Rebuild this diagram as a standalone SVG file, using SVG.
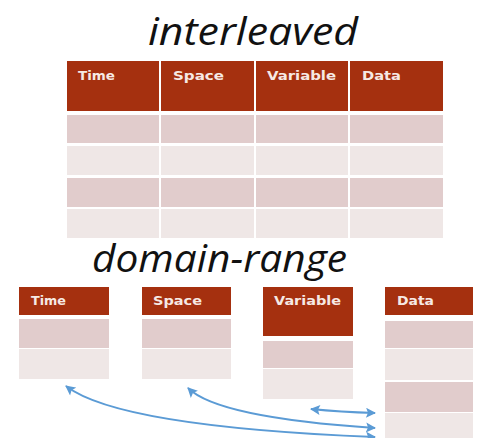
<svg xmlns="http://www.w3.org/2000/svg" width="479" height="438" viewBox="0 0 479 438">
<defs>
<style>
.title{font-family:"Open Sans","Liberation Sans",sans-serif;font-style:italic;font-size:38px;fill:#111}
.hd{fill:#A5300F}
.dk{fill:#E1CCCC}
.lt{fill:#EFE7E6}
.ht{font-family:"DejaVu Sans","Liberation Sans",sans-serif;font-weight:bold;font-size:12.5px;fill:#F6E9E4}
.arr{fill:none;stroke:#5B9BD5;stroke-width:1.8}
</style>
<marker id="ah" viewBox="0 0 10 10" refX="9" refY="5" markerWidth="11" markerHeight="10" markerUnits="userSpaceOnUse" orient="auto-start-reverse">
<path d="M0,0 L10,5 L0,10 L2,5 Z" fill="#5B9BD5"/>
</marker>
</defs>
<rect width="479" height="438" fill="#fff"/>
<text class="title" x="148" y="45" textLength="210" lengthAdjust="spacingAndGlyphs">interleaved</text>
<g id="interleaved-table">
<rect class="hd" x="67" y="61" width="92" height="50"/>
<rect class="hd" x="161" y="61" width="93" height="50"/>
<rect class="hd" x="256" y="61" width="92" height="50"/>
<rect class="hd" x="350" y="61" width="93" height="50"/>
<text class="ht" x="78" y="80" textLength="37" lengthAdjust="spacingAndGlyphs">Time</text>
<text class="ht" x="173" y="80" textLength="51" lengthAdjust="spacingAndGlyphs">Space</text>
<text class="ht" x="267" y="80" textLength="69" lengthAdjust="spacingAndGlyphs">Variable</text>
<text class="ht" x="362" y="80" textLength="39" lengthAdjust="spacingAndGlyphs">Data</text>
<g>
<rect class="dk" x="67" y="115" width="92" height="28"/><rect class="dk" x="161" y="115" width="93" height="28"/><rect class="dk" x="256" y="115" width="92" height="28"/><rect class="dk" x="350" y="115" width="93" height="28"/>
<rect class="lt" x="67" y="146" width="92" height="29"/><rect class="lt" x="161" y="146" width="93" height="29"/><rect class="lt" x="256" y="146" width="92" height="29"/><rect class="lt" x="350" y="146" width="93" height="29"/>
<rect class="dk" x="67" y="178" width="92" height="29"/><rect class="dk" x="161" y="178" width="93" height="29"/><rect class="dk" x="256" y="178" width="92" height="29"/><rect class="dk" x="350" y="178" width="93" height="29"/>
<rect class="lt" x="67" y="209" width="92" height="29"/><rect class="lt" x="161" y="209" width="93" height="29"/><rect class="lt" x="256" y="209" width="92" height="29"/><rect class="lt" x="350" y="209" width="93" height="29"/>
</g>
</g>
<text class="title" x="92" y="272" textLength="255" lengthAdjust="spacingAndGlyphs">domain-range</text>
<g id="time">
<rect class="hd" x="19" y="287" width="90" height="28"/>
<text class="ht" x="31" y="305" textLength="35" lengthAdjust="spacingAndGlyphs">Time</text>
<rect class="dk" x="19" y="319" width="90" height="29"/>
<rect class="lt" x="19" y="349" width="90" height="30"/>
</g>
<g id="space">
<rect class="hd" x="142" y="287" width="89" height="28"/>
<text class="ht" x="153" y="305" textLength="49" lengthAdjust="spacingAndGlyphs">Space</text>
<rect class="dk" x="142" y="319" width="89" height="29"/>
<rect class="lt" x="142" y="349" width="89" height="30"/>
</g>
<g id="variable">
<rect class="hd" x="263" y="287" width="90" height="49"/>
<text class="ht" x="274" y="305" textLength="67" lengthAdjust="spacingAndGlyphs">Variable</text>
<rect class="dk" x="263" y="341" width="90" height="27"/>
<rect class="lt" x="263" y="369" width="90" height="30"/>
</g>
<g id="data">
<rect class="hd" x="385" y="287" width="88" height="28"/>
<text class="ht" x="397" y="305" textLength="37" lengthAdjust="spacingAndGlyphs">Data</text>
<rect class="dk" x="385" y="321" width="88" height="27"/>
<rect class="lt" x="385" y="349" width="88" height="31"/>
<rect class="dk" x="385" y="382" width="88" height="30"/>
<rect class="lt" x="385" y="413" width="88" height="27"/>
</g>
<g id="connectors">
<path class="arr" marker-start="url(#ah)" marker-end="url(#ah)" d="M375 437 C 250 432, 110 420, 66 386"/>
<path class="arr" marker-start="url(#ah)" marker-end="url(#ah)" d="M375 428 C 300 423, 212 412, 188 388"/>
<path class="arr" marker-start="url(#ah)" marker-end="url(#ah)" d="M311 409 Q 340 412 375 413"/>
</g>
</svg>
